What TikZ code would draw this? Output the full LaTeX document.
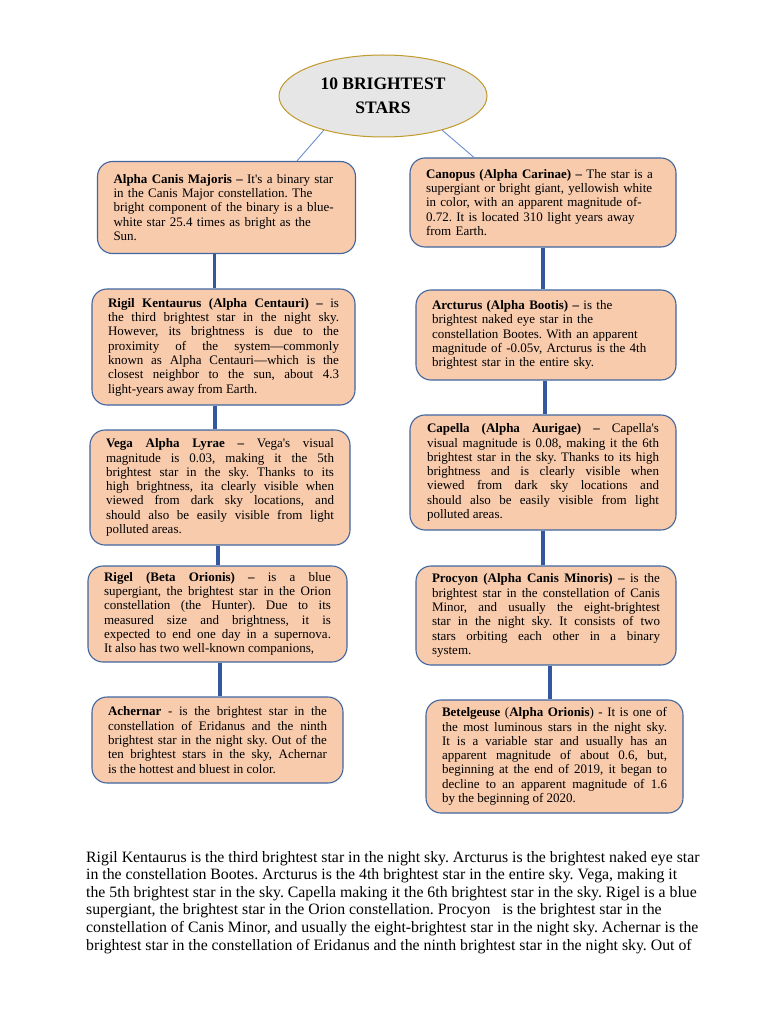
\documentclass[tikz,border=0pt]{standalone}
\usepackage{fontspec}
\setmainfont{Liberation Serif}
\usetikzlibrary{shapes.geometric}
\definecolor{peach}{HTML}{F8CBAD}
\definecolor{boxborder}{HTML}{41669F}
\definecolor{connblue}{HTML}{3358A0}
\definecolor{thinblue}{HTML}{6A8FD0}
\definecolor{ellfill}{HTML}{E7E6E6}
\definecolor{ellborder}{HTML}{C09A2A}
\tikzset{
  starbox/.style={draw=boxborder, line width=1.1pt, fill=peach, rounded corners=15pt,
    inner xsep=16pt, inner ysep=2pt, font=\fontsize{13}{14.3}\selectfont\frenchspacing},
  justbox/.style={starbox, align=justify},
  leftbox/.style={starbox, align=left},
  conn/.style={connblue, line width=3.6pt},
  thinconn/.style={thinblue, line width=0.9pt},
  title/.style={ellipse, draw=ellborder, line width=1pt, fill=ellfill,
    minimum width=208pt, minimum height=82pt, inner sep=0pt, align=center,
    font=\fontsize{17.5}{24}\selectfont\bfseries}
}
\begin{document}
\begin{tikzpicture}[x=1pt,y=-1pt]
\useasboundingbox (0,0) rectangle (768,1024);
\fill[white] (0,0) rectangle (768,1024);

\node[title] (T) at (383,96) {10 BRIGHTEST\\STARS};

\node[leftbox, minimum width=258pt, minimum height=92pt, text width=226pt] (L1) at (226.5,207.5)
{\textbf{Alpha Canis Majoris --} It\textquotesingle s a binary star\\in the Canis Major constellation. The\\bright component of the binary is a blue-\\white star 25.4 times as bright as the\\Sun.};

\node[leftbox, minimum width=266pt, minimum height=89pt, text width=234pt] (R1) at (543,202.5)
{\textbf{Canopus (Alpha Carinae) --} The star is a\\supergiant or bright giant, yellowish white\\in color, with an apparent magnitude of-\\0.72. It is located 310 light years away\\from Earth.};

\node[justbox, minimum width=263pt, minimum height=116pt, text width=231pt] (L2) at (223.5,347)
{\textbf{Rigil Kentaurus (Alpha Centauri) --} is\linebreak the third brightest star in the night sky.\linebreak However, its brightness is due to the\linebreak proximity of the system---commonly\linebreak known as Alpha Centauri---which is the\linebreak closest neighbor to the sun, about 4.3\linebreak light-years away from Earth.};

\node[leftbox, minimum width=260pt, minimum height=90pt, text width=228pt] (R2) at (546,335)
{\textbf{Arcturus (Alpha Bootis) --} is the\\brightest naked eye star in the\\constellation Bootes. With an apparent\\magnitude of -0.05v, Arcturus is the 4th\\brightest star in the entire sky.};

\node[justbox, minimum width=260pt, minimum height=115pt, text width=228pt] (L3) at (220,487.5)
{\textbf{Vega Alpha Lyrae --} Vega\textquotesingle s visual\linebreak magnitude is 0.03, making it the 5th\linebreak brightest star in the sky. Thanks to its\linebreak high brightness, ita clearly visible when\linebreak viewed from dark sky locations, and\linebreak should also be easily visible from light\linebreak polluted areas.};

\node[justbox, minimum width=266pt, minimum height=115pt, text width=232pt] (R3) at (543,472.5)
{\textbf{Capella (Alpha Aurigae) --} Capella\textquotesingle s\linebreak visual magnitude is 0.08, making it the 6th\linebreak brightest star in the sky. Thanks to its high\linebreak brightness and is clearly visible when\linebreak viewed from dark sky locations and\linebreak should also be easily visible from light\linebreak polluted areas.};

\node[justbox, minimum width=259pt, minimum height=96pt, text width=227pt] (L4) at (217.5,614)
{\textbf{Rigel (Beta Orionis) --} is a blue\linebreak supergiant, the brightest star in the Orion\linebreak constellation (the Hunter). Due to its\linebreak measured size and brightness, it is\linebreak expected to end one day in a supernova.\linebreak It also has two well-known companions,};

\node[justbox, minimum width=260pt, minimum height=99pt, text width=228pt] (R4) at (546,615.5)
{\textbf{Procyon (Alpha Canis Minoris) --} is the\linebreak brightest star in the constellation of Canis\linebreak Minor, and usually the eight-brightest\linebreak star in the night sky. It consists of two\linebreak stars orbiting each other in a binary\linebreak system.};

\node[justbox, minimum width=251pt, minimum height=86pt, text width=219pt] (L5) at (217.5,740)
{\textbf{Achernar} - is the brightest star in the\linebreak constellation of Eridanus and the ninth\linebreak brightest star in the night sky. Out of the\linebreak ten brightest stars in the sky, Achernar\linebreak is the hottest and bluest in color.};

\node[justbox, minimum width=257pt, minimum height=113pt, text width=225pt] (R5) at (554.5,756.5)
{\textbf{Betelgeuse} (\textbf{Alpha Orionis}) - It is one of\linebreak the most luminous stars in the night sky.\linebreak It is a variable star and usually has an\linebreak apparent magnitude of about 0.6, but,\linebreak beginning at the end of 2019, it began to\linebreak decline to an apparent magnitude of 1.6\linebreak by the beginning of 2020.};

% thin connectors from title
\draw[thinconn] (T.-150) -- (L1.north -| 297,0);
\draw[thinconn] (T.-30) -- (R1.north -| 474,0);

% thick connectors
\draw[conn] (L1.south -| 214.5,0) -- (L2.north -| 214.5,0);
\draw[conn] (L2.south -| 215,0) -- (L3.north -| 215,0);
\draw[conn] (L3.south -| 218,0) -- (L4.north -| 218,0);
\draw[conn] (L4.south -| 220,0) -- (L5.north -| 220,0);
\draw[conn] (R1.south -| 543,0) -- (R2.north -| 543,0);
\draw[conn] (R2.south -| 545,0) -- (R3.north -| 545,0);
\draw[conn] (R3.south -| 543,0) -- (R4.north -| 543,0);
\draw[conn] (R4.south -| 550,0) -- (R5.north -| 550,0);

\node[anchor=north west, inner sep=0pt, align=left, font=\fontsize{15.8}{17.6}\selectfont\frenchspacing] (P) at (86,851)
{Rigil Kentaurus is the third brightest star in the night sky. Arcturus is the brightest naked eye star\\
in the constellation Bootes. Arcturus is the 4th brightest star in the entire sky. Vega, making it\\
the 5th brightest star in the sky. Capella making it the 6th brightest star in the sky. Rigel is a blue\\
supergiant, the brightest star in the Orion constellation. Procyon\ \ \ is the brightest star in the\\
constellation of Canis Minor, and usually the eight-brightest star in the night sky. Achernar is the\\
brightest star in the constellation of Eridanus and the ninth brightest star in the night sky. Out of};
\end{tikzpicture}
\end{document}
